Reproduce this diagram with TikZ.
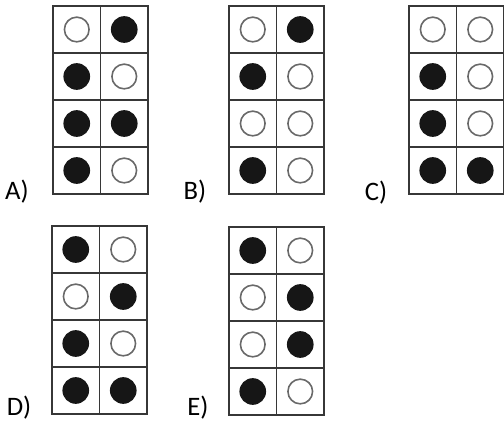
\documentclass[tikz,border=0pt]{standalone}
\usepackage{fontspec}
\setmainfont{Carlito}

\tikzset{every picture/.style={line width=0.75pt}}
\tikzset{
  cellbox/.style={draw={rgb, 255:red, 55; green, 55; blue, 55 }, line width=1.1pt},
  dot0/.style={circle, draw={rgb, 255:red, 105; green, 105; blue, 105 }, line width=1.2pt, fill=white, minimum size=18.5pt, inner sep=0pt},
  dot1/.style={circle, fill={rgb, 255:red, 22; green, 22; blue, 22 }, minimum size=20pt, inner sep=0pt},
  optlabel/.style={inner sep=0.75pt, font=\fontsize{20}{24}\selectfont}
}

% one answer card: name, left, top, rows as left/right (1 = filled)
\newcommand{\dotgrid}[4]{%
  \foreach \pl/\pr [count=\row from 0] in {#4}{
    \draw [cellbox] (#2,#3+47*\row) rectangle ++(47.5,47) ;
    \draw [cellbox] (#2+47.5,#3+47*\row) rectangle ++(47.5,47) ;
    \node [dot\pl] (#1-\row-l) at (#2+23.75,#3+47*\row+23.5) {};
    \node [dot\pr] (#1-\row-r) at (#2+71.25,#3+47*\row+23.5) {};
  }%
}

\begin{document}
\begin{tikzpicture}[x=0.75pt,y=0.75pt,yscale=-1,xscale=1]
\useasboundingbox (0,0) rectangle (504,423);

%Cards
\dotgrid{cardA}{53}{6}{0/1,1/0,1/1,1/0}
\dotgrid{cardB}{229}{6}{0/1,1/0,0/0,1/0}
\dotgrid{cardC}{409}{6}{0/0,1/0,1/0,1/1}
\dotgrid{cardD}{52}{226}{1/0,0/1,1/0,1/1}
\dotgrid{cardE}{229}{227}{1/0,0/1,0/1,1/0}

% Text Node
\draw (17,192) node [optlabel] (lblA) {A)};
% Text Node
\draw (195,192) node [optlabel] (lblB) {B)};
% Text Node
\draw (376,193) node [optlabel] (lblC) {C)};
% Text Node
\draw (19,408) node [optlabel] (lblD) {D)};
% Text Node
\draw (198,408) node [optlabel] (lblE) {E)};

\end{tikzpicture}
\end{document}
